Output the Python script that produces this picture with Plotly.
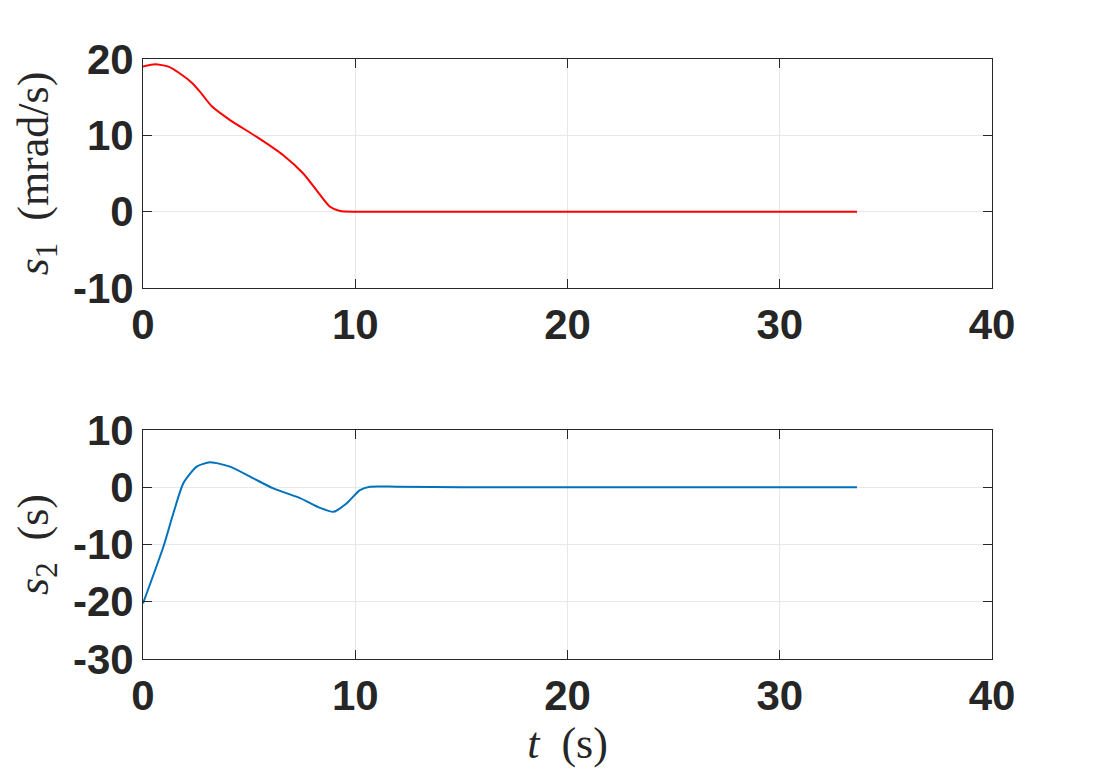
import plotly.graph_objects as go
from plotly.subplots import make_subplots

# s1 (mrad/s)
t1 = [0, 0.57, 1.2, 1.74, 2.3, 2.69, 3.24, 4.1, 5.36, 6.61, 7.55, 8.18, 8.81, 9.28, 10.0, 12.0, 20.0, 33.64]
s1 = [19.0, 19.3, 19.0, 18.1, 16.9, 15.7, 13.8, 12.0, 9.8, 7.4, 5.0, 2.8, 0.65, 0.1, 0.0, 0.0, 0.0, 0.0]

# s2 (s)
t2 = [0, 0.96, 1.43, 1.9, 2.53, 3.16, 4.1, 5.2, 6.14, 7.4, 8.34, 8.97, 9.6, 10.22, 10.69, 11.94, 15.0, 25.0, 33.64]
s2 = [-20.3, -10.4, -4.55, 0.7, 3.6, 4.35, 3.6, 1.55, -0.2, -1.9, -3.6, -4.3, -2.8, -0.5, 0.1, 0.1, 0.0, 0.0, 0.0]

x_ticks = [0, 10, 20, 30, 40]
y1_ticks = [-10, 0, 10, 20]
y2_ticks = [-30, -20, -10, 0, 10]

fig = make_subplots(rows=2, cols=1, vertical_spacing=0.2366)
fig.add_trace(go.Scatter(x=t1, y=s1, mode="lines", line=dict(color="#FF0000", width=2, shape="spline", smoothing=0.6)), row=1, col=1)
fig.add_trace(go.Scatter(x=t2, y=s2, mode="lines", line=dict(color="#0072BD", width=2, shape="spline", smoothing=0.6)), row=2, col=1)

tickfont = dict(family="Liberation Sans, Arial", size=42, color="#262626")
axcommon = dict(showline=True, linecolor="#262626", linewidth=1, mirror="ticks",
                ticks="inside", ticklen=9, tickcolor="#262626", tickwidth=1,
                showgrid=True, gridcolor="#E8E8E8", gridwidth=1, zeroline=False,
                tickfont=tickfont, automargin=False)

fig.update_xaxes(range=[0, 40], tickvals=x_ticks, ticktext=["<b>%d</b>" % v for v in x_ticks], **axcommon)
fig.update_yaxes(range=[-10, 20], tickvals=y1_ticks, ticktext=["<b>%d</b>" % v for v in y1_ticks], row=1, col=1, **axcommon)
fig.update_yaxes(range=[-30, 10], tickvals=y2_ticks, ticktext=["<b>%d</b>" % v for v in y2_ticks], row=2, col=1, **axcommon)

labfont = dict(family="Liberation Serif, DejaVu Serif", size=44, color="#262626")
fig.update_yaxes(title=dict(text="<i>s</i><sub>1</sub>&nbsp;&nbsp;(mrad/s)", font=labfont, standoff=10), row=1, col=1)
fig.update_yaxes(title=dict(text="<i>s</i><sub>2</sub>&nbsp;&nbsp;(s)", font=labfont, standoff=10), row=2, col=1)
fig.update_xaxes(title=dict(text="<i>t</i>&nbsp;&nbsp;(s)", font=labfont, standoff=4), row=2, col=1)

fig.update_layout(width=1096, height=783, showlegend=False,
                  plot_bgcolor="white", paper_bgcolor="white",
                  margin=dict(l=135, r=112, t=51, b=132))
fig.write_html("out.html")
